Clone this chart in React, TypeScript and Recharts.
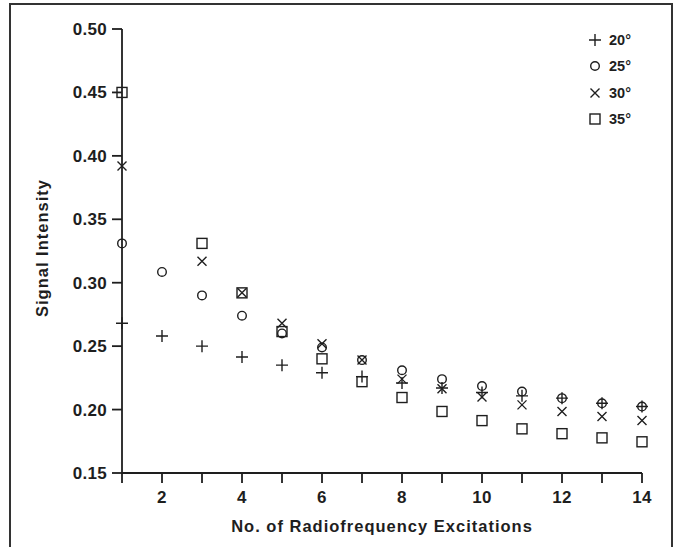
import { Scatter, ScatterChart, XAxis, YAxis } from "recharts";

const excitations = [1, 2, 3, 4, 5, 6, 7, 8, 9, 10, 11, 12, 13, 14];
const angle20 = [0.268, 0.258, 0.25, 0.2415, 0.235, 0.229, 0.226, 0.221, 0.217, 0.2134, 0.2108, 0.209, 0.205, 0.2024];
const angle25 = [0.331, 0.3085, 0.29, 0.274, 0.26, 0.249, 0.239, 0.231, 0.224, 0.2186, 0.2142, 0.209, 0.205, 0.2024];
const angle30 = [0.392, null, 0.317, 0.292, 0.268, 0.2518, 0.239, 0.224, 0.2165, 0.21, 0.2037, 0.1985, 0.1945, 0.1913];
const angle35 = [0.45, null, 0.331, 0.292, 0.2615, 0.24, 0.222, 0.2095, 0.1985, 0.1913, 0.1848, 0.181, 0.1777, 0.1746];
const yTicks = [0.15, 0.2, 0.25, 0.3, 0.35, 0.4, 0.45, 0.5];
const seriesNames = ["20°", "25°", "30°", "35°"];

const INK = "#1e1e1e";
const FONT = "'Liberation Sans', Arial, Helvetica, sans-serif";

const toPoints = (values: (number | null)[]) =>
	excitations
		.map((x, i) => ({ x, y: values[i] }))
		.filter((d) => d.y !== null);

type MarkProps = { cx?: number; cy?: number };

const Plus = ({ cx = 0, cy = 0 }: MarkProps) => (
	<path d={`M${cx - 6},${cy}H${cx + 6}M${cx},${cy - 6}V${cy + 6}`} stroke={INK} strokeWidth={1.4} fill="none" />
);
const Ring = ({ cx = 0, cy = 0 }: MarkProps) => (
	<circle cx={cx} cy={cy} r={4.3} stroke={INK} strokeWidth={1.4} fill="none" />
);
const Cross = ({ cx = 0, cy = 0 }: MarkProps) => (
	<path d={`M${cx - 4.5},${cy - 4.5}L${cx + 4.5},${cy + 4.5}M${cx - 4.5},${cy + 4.5}L${cx + 4.5},${cy - 4.5}`} stroke={INK} strokeWidth={1.4} fill="none" />
);
const Box = ({ cx = 0, cy = 0 }: MarkProps) => (
	<rect x={cx - 5} y={cy - 5} width={10} height={10} stroke={INK} strokeWidth={1.4} fill="none" />
);

const marks = [Plus, Ring, Cross, Box];

const ChartLegend = () => (
	<div
		style={{
			position: "absolute",
			top: 27,
			left: 587,
			fontFamily: FONT,
			fontWeight: "bold",
			fontSize: 14.5,
			color: INK,
		}}
	>
		{seriesNames.map((name, i) => {
			const Mark = marks[i];
			return (
				<div key={name} style={{ display: "flex", alignItems: "center", height: 26.3 }}>
					<svg width={16} height={16} style={{ marginRight: 6 }}>
						<Mark cx={8} cy={8} />
					</svg>
					<span>{name}</span>
				</div>
			);
		})}
	</div>
);

const tickStyle = { fontFamily: FONT, fontWeight: "bold", fontSize: 17, fill: INK, letterSpacing: 0.3 };

const App = () => {
	return (
		<div style={{ position: "absolute", left: 0, top: 0, width: 677, height: 547, overflow: "hidden", background: "#fff" }}>
			<div
				style={{
					position: "absolute",
					left: 9,
					top: 3,
					width: 664,
					height: 600,
					boxSizing: "border-box",
					border: "2px solid #333",
				}}
			/>
			<ScatterChart width={677} height={547} margin={{ top: 29, right: 35, bottom: 0, left: 0 }}>
				<XAxis
					type="number"
					dataKey="x"
					domain={[1, 14]}
					ticks={excitations}
					tickFormatter={(v: number) => (v % 2 === 0 ? String(v) : "")}
					height={74}
					tickSize={10}
					tickMargin={8}
					stroke={INK}
					strokeWidth={1.8}
					tick={tickStyle}
					label={{
						content: ({ viewBox }: any) => (
							<text
								x={viewBox.x + viewBox.width / 2}
								y={viewBox.y + 59}
								textAnchor="middle"
								style={{ fontFamily: FONT, fontWeight: "bold", fontSize: 16.5, letterSpacing: 1 }}
								fill={INK}
							>
								No. of Radiofrequency Excitations
							</text>
						),
					}}
				/>
				<YAxis
					type="number"
					dataKey="y"
					domain={[0.15, 0.5]}
					ticks={yTicks}
					tickFormatter={(v: number) => v.toFixed(2)}
					width={122}
					tickSize={10}
					tickMargin={5}
					stroke={INK}
					strokeWidth={1.8}
					tick={tickStyle}
					label={{
						content: ({ viewBox }: any) => {
							const cx = viewBox.x + 48;
							const cy = viewBox.y + 219;
							return (
								<text
									x={cx}
									y={cy}
									transform={`rotate(-90, ${cx}, ${cy})`}
									textAnchor="middle"
									style={{ fontFamily: FONT, fontWeight: "bold", fontSize: 16.5, letterSpacing: 1 }}
									fill={INK}
								>
									Signal Intensity
								</text>
							);
						},
					}}
				/>
				<Scatter name="20°" data={toPoints(angle20)} shape={(p: any) => <Plus cx={p.cx} cy={p.cy} />} isAnimationActive={false} />
				<Scatter name="25°" data={toPoints(angle25)} shape={(p: any) => <Ring cx={p.cx} cy={p.cy} />} isAnimationActive={false} />
				<Scatter name="30°" data={toPoints(angle30)} shape={(p: any) => <Cross cx={p.cx} cy={p.cy} />} isAnimationActive={false} />
				<Scatter name="35°" data={toPoints(angle35)} shape={(p: any) => <Box cx={p.cx} cy={p.cy} />} isAnimationActive={false} />
			</ScatterChart>
			<ChartLegend />
		</div>
	);
};

export default App;
